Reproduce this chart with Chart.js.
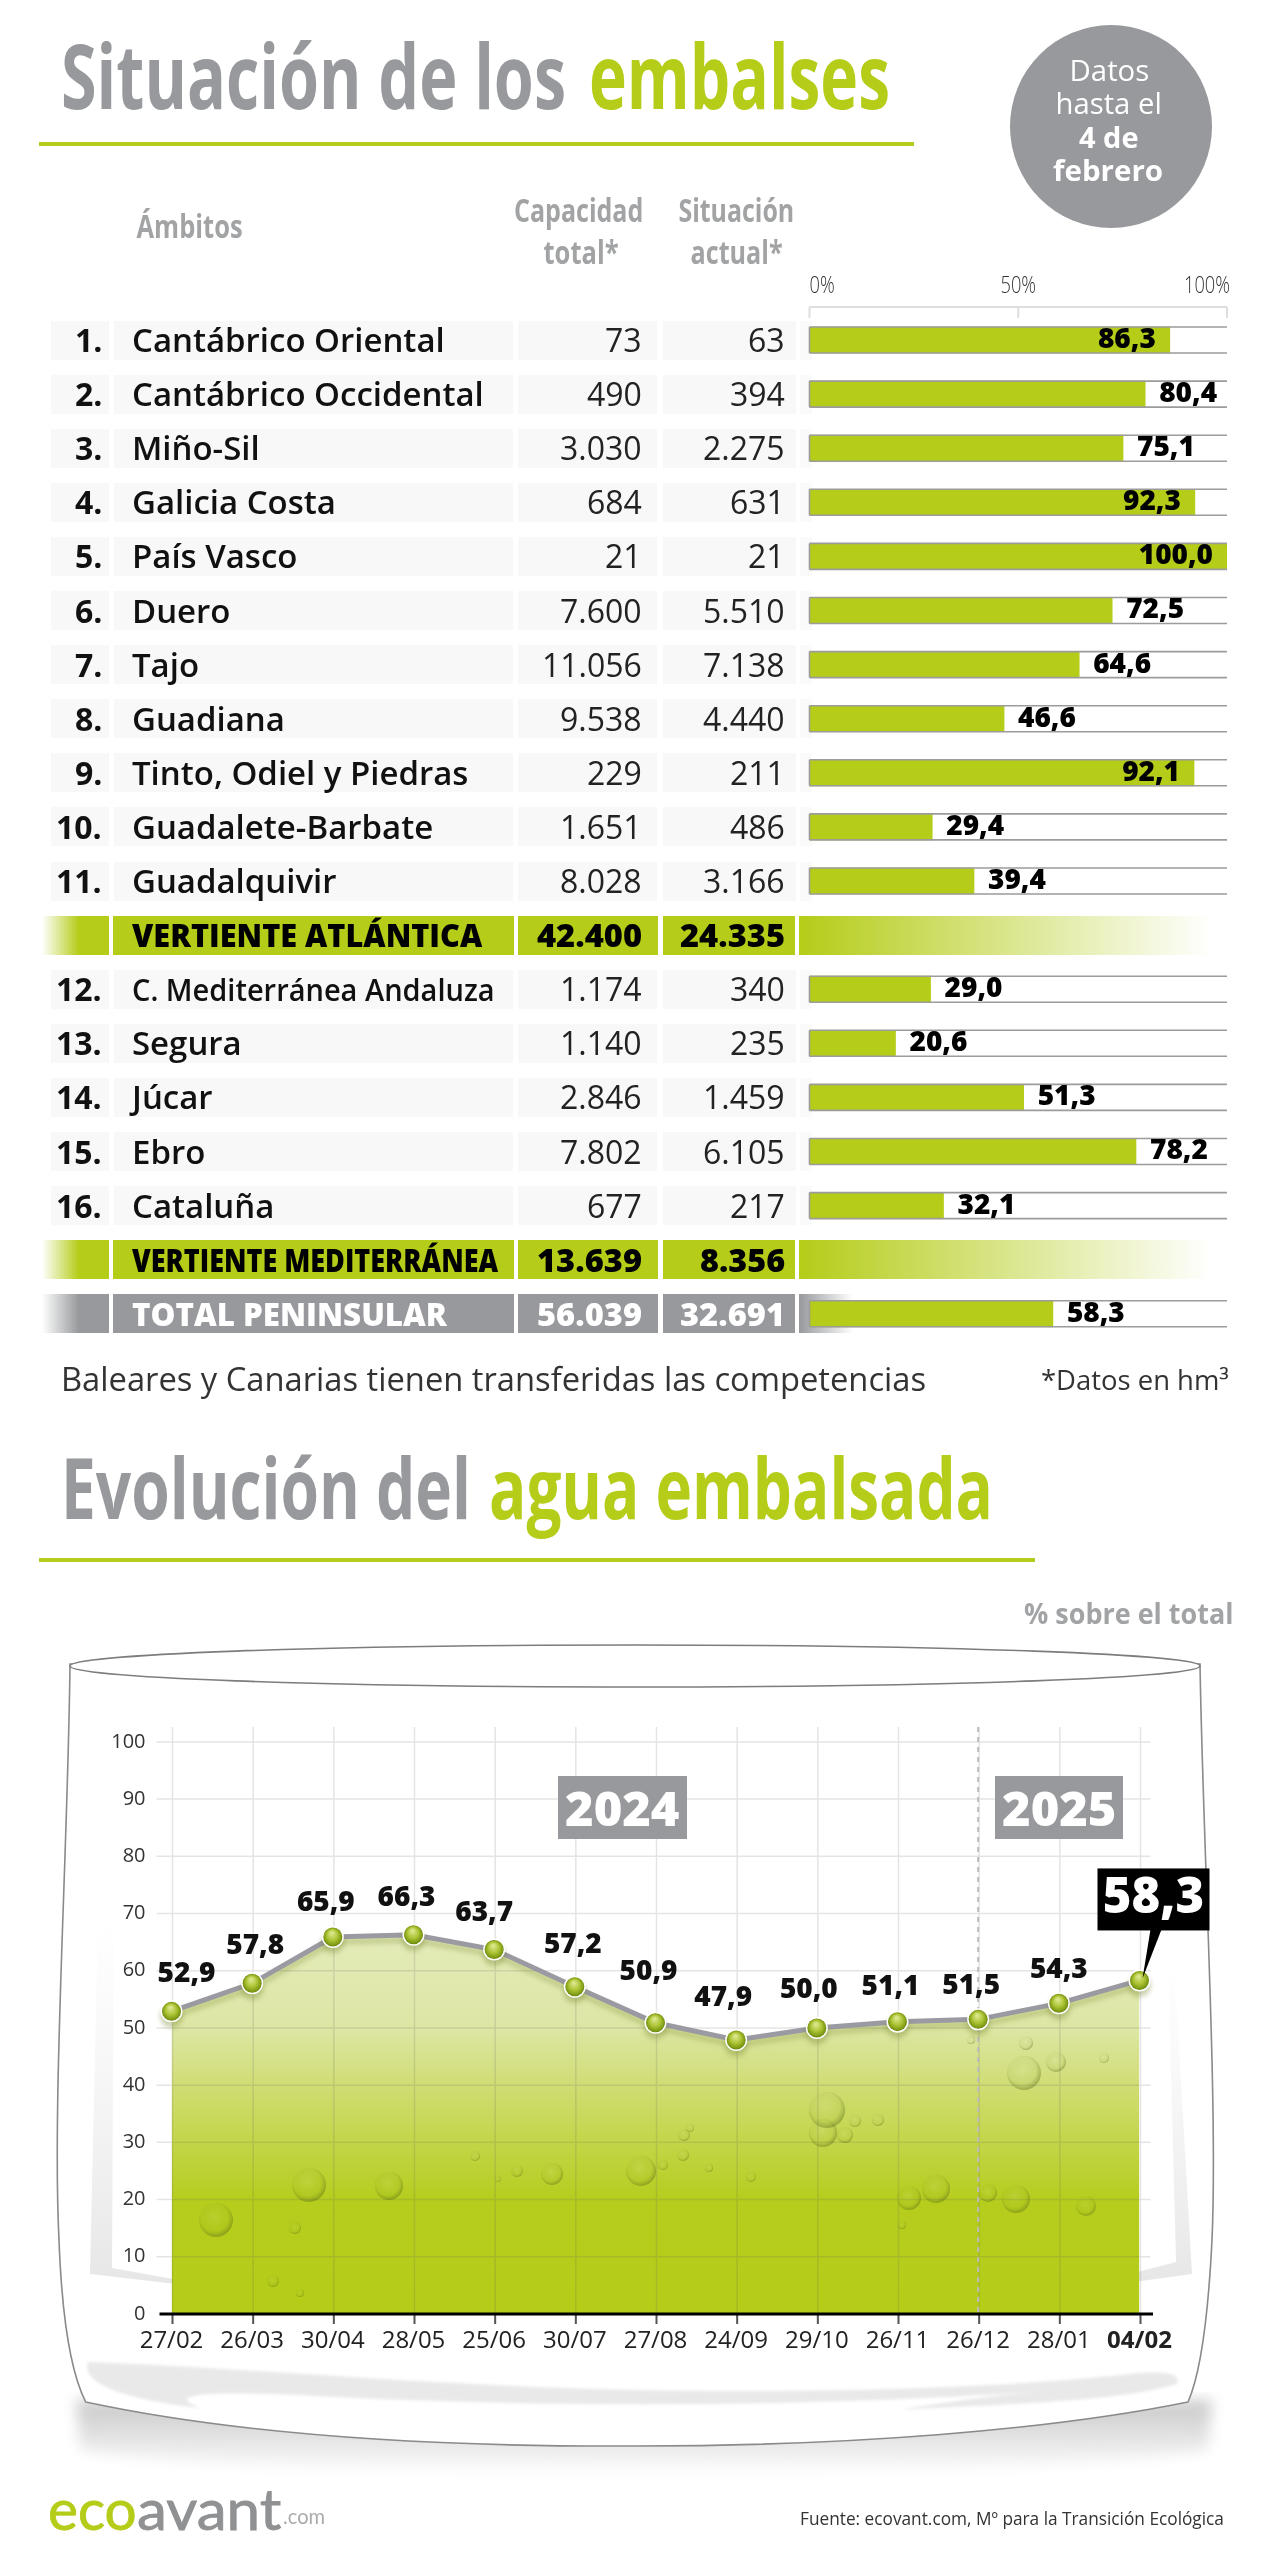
<!DOCTYPE html>
<html lang="es">
<head>
<meta charset="utf-8">
<title>Situación de los embalses</title>
<script src="https://cdn.jsdelivr.net/npm/chart.js@4/dist/chart.umd.min.js"></script>
<style>
  html, body { margin: 0; padding: 0; background: #fff; }
  #page { position: relative; width: 1280px; height: 2560px; overflow: hidden; font-family: "Open Sans", sans-serif; }
  #page canvas, #page svg { position: absolute; }
  .t { position: absolute; white-space: nowrap; line-height: 1; }
  .box { position: absolute; }
</style>
</head>
<body>
<div id="page">
  <svg id="glass" width="1280" height="2560" style="left:0;top:0">
    <defs>
      <filter id="blur8"><feGaussianBlur stdDeviation="7"/></filter>
      <filter id="blur1"><feGaussianBlur stdDeviation="1.5"/></filter>
      <linearGradient id="reflect" x1="0" y1="0" x2="0" y2="1">
        <stop offset="0" stop-color="#eee" stop-opacity="0"/>
        <stop offset="1" stop-color="#e6e6e6"/>
      </linearGradient>
      <linearGradient id="sombra" x1="0" y1="0" x2="0" y2="1">
        <stop offset="0" stop-color="#c8c8c8"/>
        <stop offset="0.55" stop-color="#e6e6e6"/>
        <stop offset="1" stop-color="#fff"/>
      </linearGradient>
    </defs>
    <path d="M76 2400 L 1212 2400 L 1208 2450 C 1000 2482, 300 2484, 80 2450 Z" fill="url(#sombra)" filter="url(#blur8)"/>
    <path d="M70 1664 C 68 1850, 52 2100, 59 2240 C 62 2320, 72 2375, 85.7 2402 C 250 2437, 450 2447, 637 2446 C 850 2446, 1050 2430, 1188 2402 C 1200 2375, 1208 2320, 1212 2240 C 1218 2100, 1203 1850, 1200 1664 Z" fill="#fff" stroke="#8a8a8a" stroke-width="1.6"/>
    <ellipse cx="635" cy="1666" rx="565" ry="21" fill="#fff" stroke="#7d7d7d" stroke-width="1.6"/>
    <path d="M88 2362 C 250 2368, 430 2386, 640 2390 C 850 2394, 1020 2386, 1130 2374 C 1160 2371, 1182 2372, 1177 2384 C 1120 2402, 1000 2404, 900 2410 C 1000 2392, 1090 2388, 1140 2382 C 950 2404, 600 2412, 300 2395 C 220 2392, 160 2392, 200 2408 C 130 2400, 80 2385, 88 2362 Z" fill="#e9e9e9" filter="url(#blur1)"/>
    <path d="M98 1918 L 114 1918 L 112 2268 L 245 2292 L 90 2274 Z" fill="url(#reflect)"/>
    <path d="M1168 1960 L 1174 1960 L 1192 2274 L 1060 2292 L 1176 2262 Z" fill="url(#reflect)"/>
  </svg>
  <canvas id="barChart" width="500" height="1090" style="left:760px;top:260px"></canvas>
  <canvas id="lineChart" width="1280" height="700" style="left:0;top:1700px"></canvas>
  <svg id="bubbles" width="1280" height="2560" style="left:0;top:0;pointer-events:none">
    <defs>
      <radialGradient id="burbuja" cx="0.45" cy="0.42" r="0.55">
        <stop offset="0" stop-color="#fff" stop-opacity="0.08"/>
        <stop offset="0.72" stop-color="#6a7f20" stop-opacity="0.05"/>
        <stop offset="1" stop-color="#4c5f14" stop-opacity="0.34"/>
      </radialGradient>
    </defs>
  </svg>
</div>
<script>
// tabla de embalses (las filas resumen no llevan barra propia salvo el total)
const ambitos = ['Cantábrico Oriental', 'Cantábrico Occidental', 'Miño-Sil', 'Galicia Costa', 'País Vasco', 'Duero', 'Tajo', 'Guadiana', 'Tinto, Odiel y Piedras', 'Guadalete-Barbate', 'Guadalquivir', 'VERTIENTE ATLÁNTICA', 'C. Mediterránea Andaluza', 'Segura', 'Júcar', 'Ebro', 'Cataluña', 'VERTIENTE MEDITERRÁNEA', 'TOTAL PENINSULAR'];
const capacidad = [73, 490, 3030, 684, 21, 7600, 11056, 9538, 229, 1651, 8028, 42400, 1174, 1140, 2846, 7802, 677, 13639, 56039];
const situacion = [63, 394, 2275, 631, 21, 5510, 7138, 4440, 211, 486, 3166, 24335, 340, 235, 1459, 6105, 217, 8356, 32691];
const porcentaje = [86.3, 80.4, 75.1, 92.3, 100.0, 72.5, 64.6, 46.6, 92.1, 29.4, 39.4, null, 29.0, 20.6, 51.3, 78.2, 32.1, null, 58.3];
const porcentajeTicks = [0, 50, 100];

// evolución del agua embalsada
const fechas = ['27/02', '26/03', '30/04', '28/05', '25/06', '30/07', '27/08', '24/09', '29/10', '26/11', '26/12', '28/01', '04/02'];
const aguaEmbalsada = [52.9, 57.8, 65.9, 66.3, 63.7, 57.2, 50.9, 47.9, 50.0, 51.1, 51.5, 54.3, 58.3];
const evolucionTicks = [0, 10, 20, 30, 40, 50, 60, 70, 80, 90, 100];

const VERDE = '#b5cc18';
const GRIS = '#97999c';
const page = document.getElementById('page');
const coma = v => v.toFixed(1).replace('.', ',');
const miles = n => String(n).replace(/\B(?=(\d{3})+$)/g, '.');

// texto real colocado a mano; w ajusta el ancho con scaleX
function txt(str, x, y, o = {}) {
    const el = document.createElement('div');
    el.className = 't';
    el.textContent = str;
    el.style.fontSize = (o.size || 30) + 'px';
    el.style.fontWeight = o.weight || 400;
    el.style.color = o.color || '#111';
    if (o.font) el.style.fontFamily = o.font;
    if (o.stroke) el.style.webkitTextStroke = o.stroke;
    page.appendChild(el);
    const natural = el.offsetWidth;
    const align = o.align || 'left';
    const s = o.w ? o.w / natural : (o.sx || 1);
    el.style.left = (align === 'left' ? x : align === 'right' ? x - natural : x - natural / 2) + 'px';
    el.style.top = (y - (o.size || 30) / 2) + 'px';
    el.style.transformOrigin = align === 'left' ? '0 50%' : align === 'right' ? '100% 50%' : '50% 50%';
    el.style.transform = 'scaleX(' + s + ')';
    return el;
}

function box(x0, x1, y0, y1, bg) {
    const el = document.createElement('div');
    el.className = 'box';
    el.style.cssText = `left:${x0}px;top:${y0}px;width:${x1 - x0}px;height:${y1 - y0}px;background:${bg}`;
    page.insertBefore(el, document.getElementById('glass'));
    return el;
}

// cabecera
txt('Situación de los', 61, 74, { size: 90, weight: 700, color: GRIS, w: 505 });
txt('embalses', 589, 74, { size: 90, weight: 700, color: VERDE, w: 301 });
box(39, 914, 142, 146, VERDE);
const circulo = box(1010, 1212, 25, 228, GRIS);
circulo.style.borderRadius = '50%';
txt('Datos', 1109, 69, { size: 29, color: '#fff', align: 'center', w: 80 });
txt('hasta el', 1108, 102, { size: 29, color: '#fff', align: 'center', w: 106 });
txt('4 de', 1109, 136, { size: 29, weight: 700, color: '#fff', align: 'center', w: 60 });
txt('febrero', 1108, 169, { size: 29, weight: 700, color: '#fff', align: 'center', w: 110 });

const cabecera = { size: 32, weight: 700, color: '#a1a3a5', align: 'center' };
txt('Ámbitos', 189, 226, { ...cabecera, w: 106 });
txt('Capacidad', 578, 210, { ...cabecera, w: 129 });
txt('total*', 581, 252, { ...cabecera, w: 75 });
txt('Situación', 736, 210, { ...cabecera, w: 116 });
txt('actual*', 736, 252, { ...cabecera, w: 92 });

// filas de la tabla
const FILA0 = 340, FILA_H = 54.1;
const filaY = i => FILA0 + i * FILA_H;
let rank = 0;
ambitos.forEach((nombre, i) => {
    const y = filaY(i);
    const esVertiente = nombre.startsWith('VERTIENTE');
    const esTotal = nombre.startsWith('TOTAL');
    if (esVertiente || esTotal) {
        const c = esTotal ? GRIS : VERDE;
        const fg = esTotal ? '#fff' : '#000';
        const a = y - 19.5, b = y + 19.5;
        box(42, 109, a, b, `linear-gradient(90deg, rgba(255,255,255,0), ${c} 55%)`);
        box(113, 514, a, b, c);
        box(518, 658, a, b, c);
        box(663, 795, a, b, c);
        box(799, esTotal ? 853 : 1212, a, b, `linear-gradient(90deg, ${c}, rgba(255,255,255,0))`);
        const w = nombre.includes('ATL') ? 350 : nombre.includes('MED') ? 366 : 315;
        txt(nombre, 132, y, { size: 32, weight: 800, color: fg, w: w });
        const wc = 105;
        txt(miles(capacidad[i]), 642, y, { size: 32, weight: 800, color: fg, align: 'right', w: wc });
        txt(miles(situacion[i]), 785, y, { size: 32, weight: 800, color: fg, align: 'right', w: situacion[i] < 10000 ? 85 : wc });
        return;
    }
    rank++;
    box(51, 109, y - 19.5, y + 19.5, '#f8f8f8');
    box(114, 513, y - 19.5, y + 19.5, '#f8f8f8');
    box(518, 657, y - 19.5, y + 19.5, '#f8f8f8');
    box(663, 796, y - 19.5, y + 19.5, '#f8f8f8');
    box(800, 812, y - 19.5, y + 19.5, '#fafafa');
    txt(rank + '.', 102, y, { size: 32, weight: 700, align: 'right' });
    txt(nombre, 132, y, nombre.startsWith('C. ') ? { size: 31, weight: 600, w: 363 } : { size: 32, weight: 600, sx: 1.03 });
    txt(miles(capacidad[i]), 642, y, { size: 32, color: '#222', align: 'right' });
    txt(miles(situacion[i]), 785, y, { size: 32, color: '#222', align: 'right' });
});

txt('Baleares y Canarias tienen transferidas las competencias', 61, 1378, { size: 33, color: '#333', w: 865 });
txt('*Datos en hm³', 1229, 1379, { size: 27, color: '#333', align: 'right', w: 188 });

txt('Evolución del', 61, 1487, { size: 84, weight: 700, color: GRIS, w: 410 });
txt('agua embalsada', 489, 1487, { size: 84, weight: 700, color: VERDE, w: 504 });
box(39, 1035, 1558, 1562, VERDE);
txt('% sobre el total', 1233, 1613, { size: 28, weight: 700, color: '#a1a3a5', align: 'right', w: 209 });

// gráfico de barras horizontales
const barraPlugin = {
    id: 'barraPlugin',
    beforeDatasetsDraw(chart) {
        const { ctx, scales: { x } } = chart;
        ctx.save();
        ctx.strokeStyle = '#dedede';
        ctx.lineWidth = 2;
        ctx.beginPath();
        porcentajeTicks.forEach(v => {
            ctx.moveTo(x.getPixelForValue(v), 47);
            ctx.lineTo(x.getPixelForValue(v), 58);
        });
        ctx.moveTo(x.getPixelForValue(0), 47);
        ctx.lineTo(x.getPixelForValue(100), 47);
        ctx.stroke();
        // etiquetas del eje: fuente estrecha, se comprime a mano
        ctx.fillStyle = '#333';
        ctx.font = '300 24px "Open Sans"';
        ctx.textBaseline = 'middle';
        porcentajeTicks.forEach((v, i) => {
            ctx.save();
            const extra = i === porcentajeTicks.length - 1 ? 3 : 0;
            ctx.translate(x.getPixelForValue(v) + extra, 26);
            ctx.scale(0.76, 1);
            ctx.textAlign = i === 0 ? 'left' : i === porcentajeTicks.length - 1 ? 'right' : 'center';
            ctx.fillText(v + '%', 0, 0);
            ctx.restore();
        });
        ctx.restore();
    },
    afterDatasetsDraw(chart) {
        const { ctx, scales: { x, y } } = chart;
        ctx.save();
        porcentaje.forEach((v, i) => {
            if (v === null) return;
            const py = y.getPixelForValue(i);
            const x0 = x.getPixelForValue(0), x100 = x.getPixelForValue(100), xv = x.getPixelForValue(v);
            ctx.strokeStyle = '#9c9c9c';
            ctx.lineWidth = 1.6;
            ctx.beginPath();
            ctx.moveTo(x0, py - 13); ctx.lineTo(x100, py - 13);
            ctx.moveTo(x0, py + 13); ctx.lineTo(x100, py + 13);
            ctx.moveTo(x0, py - 13); ctx.lineTo(x0, py + 13);
            ctx.stroke();
            ctx.fillStyle = '#000';
            ctx.font = '800 28px "Open Sans"';
            ctx.textBaseline = 'middle';
            if (v > 85) {
                ctx.textAlign = 'right';
                ctx.fillText(coma(v), xv - 14, py);
            } else {
                ctx.textAlign = 'left';
                ctx.fillText(coma(v), xv + 14, py);
            }
        });
        ctx.restore();
    }
};

new Chart(document.getElementById('barChart'), {
    type: 'bar',
    data: {
        labels: ambitos,
        datasets: [{ data: porcentaje, backgroundColor: VERDE, barThickness: 26, borderWidth: 0 }]
    },
    options: {
        indexAxis: 'y',
        responsive: false,
        animation: false,
        layout: { padding: { left: 49.5, right: 33, top: 0, bottom: 9.15 } },
        plugins: { legend: { display: false }, tooltip: { enabled: false } },
        scales: {
            x: {
                position: 'top',
                min: 0,
                max: 100,
                afterBuildTicks: s => { s.ticks = porcentajeTicks.map(v => ({ value: v })); },
                afterFit: s => { s.height = 52.95; },
                grid: { display: false, drawTicks: false },
                border: { display: false },
                ticks: { display: false }
            },
            y: { display: false }
        }
    },
    plugins: [barraPlugin]
});

// gráfico de evolución
const AREA = 0, LINEA = 1;
const ultimo = aguaEmbalsada.length - 1;
const etiquetaDx = [15, 3, -7, -7, -10, -2, -7, -13, -8, -7, -7, 0];
const etiquetaDy = [-37, -37, -34, -37, -37, -42, -51, -42, -38, -35, -33, -33];

const evolucionPlugin = {
    id: 'evolucionPlugin',
    beforeDatasetDraw(chart, args) {
        if (args.index !== LINEA) return;
        const ctx = chart.ctx;
        ctx.save();
        ctx.shadowColor = 'rgba(120,135,50,0.35)';
        ctx.shadowOffsetY = 5;
        ctx.shadowBlur = 5;
    },
    afterDatasetDraw(chart, args) {
        const { ctx, scales: { x, y } } = chart;
        if (args.index === LINEA) {
            ctx.restore();
            return;
        }
        // rejilla encima del área y debajo de la línea
        ctx.save();
        ctx.strokeStyle = 'rgba(95,95,95,0.17)';
        ctx.lineWidth = 1.5;
        ctx.beginPath();
        evolucionTicks.forEach(v => {
            if (v === 0) return;
            const py = y.getPixelForValue(v);
            ctx.moveTo(x.left - 15, py);
            ctx.lineTo(x.right + 11, py);
        });
        fechas.forEach((f, i) => {
            const px = x.getPixelForValue(i) + 1;
            ctx.moveTo(px, y.top);
            ctx.lineTo(px, y.bottom);
        });
        ctx.stroke();
        ctx.setLineDash([5, 5]);
        ctx.strokeStyle = '#bcbcbc';
        ctx.lineWidth = 2;
        ctx.beginPath();
        ctx.moveTo(x.getPixelForValue(10), y.top);
        ctx.lineTo(x.getPixelForValue(10), y.bottom);
        ctx.stroke();
        ctx.setLineDash([]);
        // eje inferior
        ctx.strokeStyle = '#555';
        ctx.lineWidth = 2;
        ctx.beginPath();
        fechas.forEach((f, i) => {
            const px = x.getPixelForValue(i) + 1;
            ctx.moveTo(px, y.bottom);
            ctx.lineTo(px, y.bottom + 10);
        });
        ctx.stroke();
        ctx.strokeStyle = '#000';
        ctx.lineWidth = 3;
        ctx.beginPath();
        ctx.moveTo(x.left - 12, y.bottom);
        ctx.lineTo(x.right + 13.5, y.bottom);
        ctx.stroke();
        ctx.restore();
    },
    afterDatasetsDraw(chart) {
        const { ctx } = chart;
        const puntos = chart.getDatasetMeta(LINEA).data;
        ctx.save();
        // brillo de las bolas
        puntos.forEach(p => {
            const g = ctx.createRadialGradient(p.x - 1, p.y - 4, 1, p.x, p.y, 10);
            g.addColorStop(0, '#dbe68a');
            g.addColorStop(0.5, '#acc435');
            g.addColorStop(0.85, '#7f9b15');
            g.addColorStop(1, '#62800e');
            ctx.fillStyle = g;
            ctx.beginPath();
            ctx.arc(p.x, p.y, 9.5, 0, Math.PI * 2);
            ctx.fill();
        });
        ctx.textAlign = 'center';
        ctx.textBaseline = 'middle';
        ctx.fillStyle = '#111';
        ctx.font = '800 28px "Open Sans"';
        aguaEmbalsada.forEach((v, i) => {
            if (i === ultimo) return;
            ctx.fillText(coma(v), puntos[i].x + etiquetaDx[i], puntos[i].y + etiquetaDy[i]);
        });
        // etiqueta del último dato
        const p = puntos[ultimo];
        ctx.fillStyle = '#000';
        ctx.fillRect(p.x - 42, p.y - 112, 112, 62);
        ctx.beginPath();
        ctx.moveTo(p.x + 11, p.y - 51);
        ctx.lineTo(p.x + 22, p.y - 51);
        ctx.lineTo(p.x + 3, p.y - 2);
        ctx.closePath();
        ctx.fill();
        ctx.fillStyle = '#fff';
        ctx.font = '800 49px "Open Sans"';
        ctx.fillText(coma(aguaEmbalsada[ultimo]), p.x + 14, p.y - 81);
        ctx.restore();
    }
};

new Chart(document.getElementById('lineChart'), {
    type: 'line',
    data: {
        labels: fechas,
        datasets: [
            {
                data: aguaEmbalsada,
                order: 2,
                fill: 'origin',
                borderWidth: 0,
                pointRadius: 0,
                tension: 0,
                backgroundColor(context) {
                    const { ctx, chartArea, scales } = context.chart;
                    if (!chartArea || !scales.y) return VERDE;
                    const top = scales.y.getPixelForValue(66), bottom = scales.y.getPixelForValue(0);
                    if (!Number.isFinite(top) || !Number.isFinite(bottom)) return VERDE;
                    const g = ctx.createLinearGradient(0, top, 0, bottom);
                    const stop = v => (66 - v) / 66;
                    g.addColorStop(0, '#e4ebb9');
                    g.addColorStop(stop(50), '#dde6a4');
                    g.addColorStop(stop(40), '#d0dd74');
                    g.addColorStop(stop(30), '#c3d548');
                    g.addColorStop(stop(20), '#b6cd1e');
                    g.addColorStop(1, VERDE);
                    return g;
                }
            },
            {
                data: aguaEmbalsada,
                order: 1,
                clip: false,
                fill: false,
                tension: 0,
                borderColor: '#9a9aa2',
                borderWidth: 5,
                pointRadius: 10,
                pointBorderWidth: 2,
                pointBorderColor: '#fff',
                pointBackgroundColor: '#a2bd2d'
            }
        ]
    },
    options: {
        responsive: false,
        animation: false,
        layout: { padding: { left: 0, right: 140.5, top: 27, bottom: 0 } },
        plugins: { legend: { display: false }, tooltip: { enabled: false } },
        scales: {
            x: {
                afterFit: s => { s.height = 86; s.paddingLeft = 0; s.paddingRight = 0; },
                grid: { display: false, drawTicks: false },
                border: { display: false },
                ticks: {
                    autoSkip: false,
                    maxRotation: 0,
                    minRotation: 0,
                    padding: 13,
                    color: '#222',
                    font: ctx => ({ size: 24, family: '"Open Sans"', weight: ctx.index === ultimo ? 'bold' : 'normal' })
                }
            },
            y: {
                min: 0,
                max: 102.6,
                afterBuildTicks: s => { s.ticks = evolucionTicks.map(v => ({ value: v })); },
                // el relleno de las etiquetas no debe mover el área del gráfico
                afterFit: s => { s.width = 171.5; s.paddingTop = 0; s.paddingBottom = 0; },
                grid: { display: false, drawTicks: false },
                border: { display: false },
                ticks: { padding: 26, color: '#333', font: { size: 20, family: '"Open Sans"' } }
            }
        }
    },
    plugins: [evolucionPlugin]
});

// rótulos de año sobre el gráfico
[['2024', 558, 686.5], ['2025', 995, 1123]].forEach(([anyo, a, b]) => {
    const el = box(a, b, 1776, 1839, GRIS);
    page.appendChild(el);
    txt(anyo, (a + b) / 2, 1808, { size: 48, weight: 800, color: '#fff', align: 'center', w: 115 });
});

// burbujas decorativas del agua
const burbujas = [[216, 2220, 17], [309, 2185, 17], [389, 2186, 14], [295, 2228, 6], [273, 2281, 6], [300, 2293, 4], [475, 2156, 5], [517, 2171, 6], [552, 2174, 11], [641, 2171, 15], [663, 2165, 5], [683, 2155, 6], [684, 2135, 6], [690, 2128, 4], [709, 2168, 4], [827, 2110, 18], [823, 2133, 14], [845, 2135, 8], [855, 2121, 6], [878, 2120, 6], [909, 2198, 12], [936, 2189, 14], [902, 2225, 4], [988, 2193, 9], [1016, 2199, 14], [1086, 2206, 10], [1024, 2073, 17], [1056, 2062, 10], [1026, 2043, 7], [1104, 2058, 5], [498, 2179, 3], [751, 2177, 5], [971, 2040, 4]];
const svgBurbujas = document.getElementById('bubbles');
burbujas.forEach(([cx, cy, r]) => {
    const c = document.createElementNS('http://www.w3.org/2000/svg', 'circle');
    c.setAttribute('cx', cx);
    c.setAttribute('cy', cy);
    c.setAttribute('r', r);
    c.setAttribute('fill', 'url(#burbuja)');
    svgBurbujas.appendChild(c);
});

// pie
txt('eco', 48, 2509, { size: 56, font: 'Lato', color: VERDE, w: 89, stroke: '0.8px ' + VERDE });
txt('avant', 137, 2509, { size: 56, font: 'Lato', color: '#8f9193', w: 144, stroke: '0.8px #8f9193' });
txt('.com', 283, 2516, { size: 22, font: 'Lato', color: '#a9abad', w: 42 });
txt('Fuente: ecovant.com, Mº para la Transición Ecológica', 1224, 2518.5, { size: 19, color: '#333', align: 'right', w: 424 });
</script>
</body>
</html>
